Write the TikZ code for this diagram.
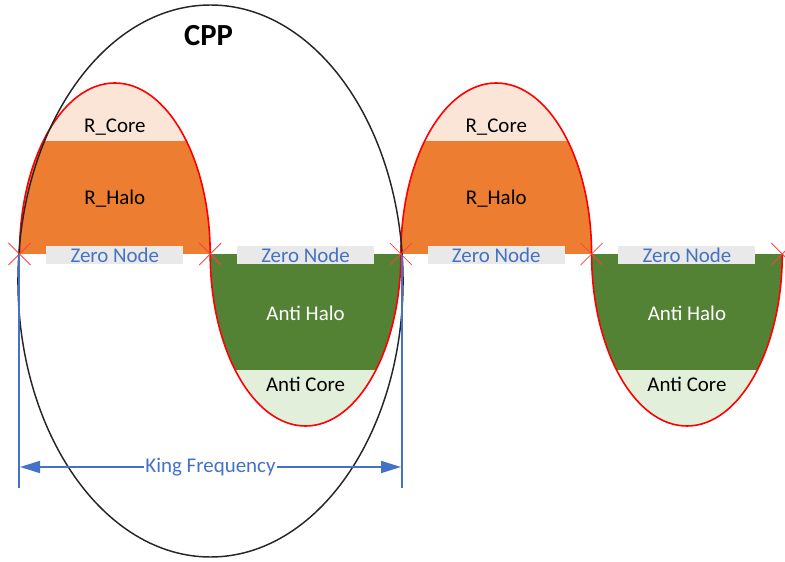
\documentclass[tikz,border=0pt]{standalone}
\usepackage{fontspec}
\setmainfont{Carlito}
\usetikzlibrary{arrows.meta}
\definecolor{haloor}{HTML}{ED7D31}
\definecolor{corepeach}{HTML}{FBE5D6}
\definecolor{antigreen}{HTML}{548235}
\definecolor{antilight}{HTML}{E2EFDA}
\definecolor{zerogray}{HTML}{E9E9E9}
\definecolor{dimblue}{HTML}{4472C4}
\tikzset{
  lbl/.style={font=\fontsize{15.7}{18}\selectfont, inner sep=0pt},
  zerobox/.style={lbl, fill=zerogray, text=dimblue, minimum width=102.75pt, minimum height=13.5pt, text depth=0pt},
  humpline/.style={draw=red, line width=1.2pt},
  xmark/.style={draw=red!75, line width=0.6pt},
  dimline/.style={color=dimblue, line width=1.3pt},
  cppellipse/.style={draw=black!85, line width=1.1pt}
}
\begin{document}
\begin{tikzpicture}[x=0.75pt,y=0.75pt]
\useasboundingbox (0,0) rectangle (785,561);
% upper humps
\foreach \i/\cx in {1/114.85, 3/496.25}{
  \begin{scope}
    \clip (\cx-95.35,307) arc[start angle=180,end angle=0,x radius=71.5pt,y radius=128.25pt] -- cycle;
    \fill[corepeach] (\cx-96,307) rectangle (\cx+96,480);
    \fill[haloor] (\cx-96,307) rectangle (\cx+96,420);
  \end{scope}
  \draw[humpline] (\cx-95.35,307) arc[start angle=180,end angle=0,x radius=71.5pt,y radius=128.25pt];
  \node[lbl] (rcore\i) at (\cx,434) {R\_Core};
  \node[lbl] (rhalo\i) at (\cx,362) {R\_Halo};
  \node[zerobox] (zero\i) at (\cx,306) {Zero Node};
}
% lower humps
\foreach \i/\cx in {2/305.55, 4/686.95}{
  \begin{scope}
    \clip (\cx-95.35,307) arc[start angle=180,end angle=360,x radius=71.5pt,y radius=129pt] -- cycle;
    \fill[antilight] (\cx-96,307) rectangle (\cx+96,130);
    \fill[antigreen] (\cx-96,307) rectangle (\cx+96,191);
  \end{scope}
  \draw[humpline] (\cx-95.35,307) arc[start angle=180,end angle=360,x radius=71.5pt,y radius=129pt];
  \node[lbl, text=white] (ahalo\i) at (\cx,248) {Anti Halo};
  \node[lbl] (acore\i) at (\cx,177) {Anti Core};
  \node[zerobox] (zero\i) at (\cx,306) {Zero Node};
}
% CPP ellipse
\node[inner sep=0pt] (cppc) at (210.5,280) {};
\draw[cppellipse] (cppc) ellipse[x radius=144.4pt, y radius=207pt];
\node[font=\fontsize{23}{26}\selectfont\bfseries, inner sep=0pt] (cpp) at (208.5,525) {CPP};
% zero crossings
\foreach \k/\xx in {0/19.5, 1/210.2, 2/400.9, 3/591.6, 4/782.3}{
  \coordinate (zc\k) at (\xx,307);
  \draw[xmark] (zc\k) +(-11,-11) -- +(11,11);
  \draw[xmark] (zc\k) +(-11,11) -- +(11,-11);
}
% King frequency dimension
\coordinate (vlt) at (19,306);
\coordinate (vlb) at (19,73);
\coordinate (vrt) at (402,306);
\coordinate (vrb) at (402,73);
\draw[dimline] (vlt) -- (vlb);
\draw[dimline] (vrt) -- (vrb);
\coordinate (kl) at (20,94);
\coordinate (kr) at (401,94);
\draw[dimline, {Triangle[length=15pt,width=9pt]}-{Triangle[length=15pt,width=9pt]}] (kl) -- (kr)
  node[midway, fill=white, lbl, inner xsep=1pt, text=dimblue] (kf) {King Frequency};
\end{tikzpicture}
\end{document}
